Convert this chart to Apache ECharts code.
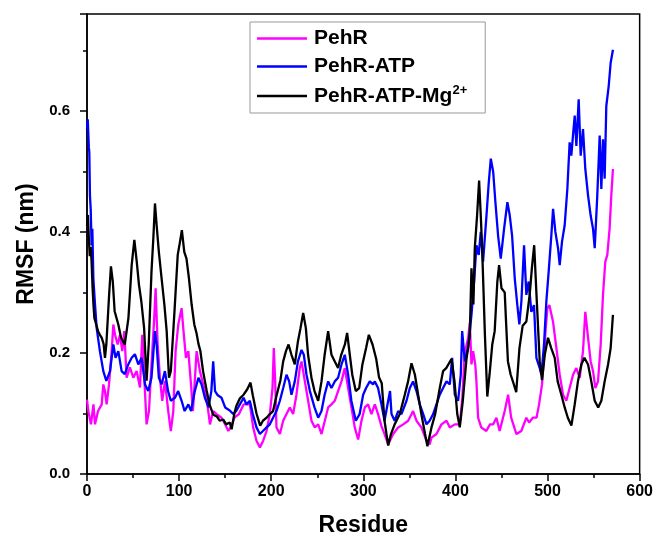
<!DOCTYPE html>
<html><head><meta charset="utf-8">
<script src="https://cdn.jsdelivr.net/npm/echarts@6/dist/echarts.min.js"></script>
<style>html,body{margin:0;padding:0;background:#fff}#c{width:656px;height:542px}</style>
</head><body><div id="c"></div>
<script>
const seriesNames = ['PehR', 'PehR-ATP', 'PehR-ATP-Mg2+'];
const xTicks = [0, 100, 200, 300, 400, 500, 600];
const yTicks = [0.0, 0.2, 0.4, 0.6];

const pehR = [[0,0.123],[1.4,0.104],[4.3,0.082],[7,0.115],[8.7,0.082],[12,0.104],[16,0.115],[17.7,0.148],[19.5,0.137],[21.3,0.115],[23.9,0.148],[26.8,0.203],[28.6,0.247],[30.4,0.23],[33.3,0.214],[35.8,0.23],[38.3,0.203],[40.5,0.236],[43,0.159],[46.6,0.176],[50.3,0.159],[53.9,0.17],[57.5,0.143],[60,0.23],[62.2,0.159],[64.7,0.082],[67.3,0.104],[70,0.181],[73,0.258],[74.5,0.307],[76.7,0.214],[79.2,0.159],[81.7,0.121],[84.6,0.154],[88.2,0.104],[91,0.071],[93.7,0.104],[96.2,0.203],[99.1,0.247],[102.7,0.274],[104.5,0.241],[107.4,0.192],[110,0.203],[112.9,0.148],[115,0.104],[119,0.203],[122.6,0.17],[126.2,0.148],[129.8,0.126],[133.5,0.082],[137,0.104],[140.7,0.099],[146,0.093],[150,0.082],[153.4,0.071],[157,0.08],[160,0.093],[165,0.099],[170,0.115],[176.8,0.115],[180.4,0.077],[184,0.055],[187.7,0.044],[191.3,0.055],[194.9,0.071],[198.5,0.099],[201.4,0.142],[202.8,0.208],[204.3,0.153],[205.7,0.077],[209.4,0.066],[213,0.088],[216.6,0.099],[220.2,0.11],[223.8,0.099],[227.4,0.131],[231,0.175],[232.9,0.186],[236.5,0.153],[240.1,0.121],[243.7,0.088],[247.3,0.077],[251,0.082],[254.6,0.066],[258.2,0.088],[261.8,0.11],[265.4,0.115],[269,0.121],[272.6,0.137],[276.3,0.153],[279.9,0.175],[283.5,0.142],[287.1,0.11],[290.7,0.077],[294.4,0.057],[298,0.088],[301.6,0.11],[305.2,0.115],[308.8,0.099],[312.5,0.115],[316,0.099],[319.5,0.08],[323,0.066],[327,0.049],[332.4,0.066],[337.8,0.077],[343.3,0.082],[348.7,0.088],[354,0.104],[357.7,0.088],[363,0.077],[368.6,0.055],[372,0.049],[374,0.06],[379.4,0.066],[384.8,0.082],[390.3,0.088],[393.9,0.077],[399.3,0.082],[404.7,0.082],[407.5,0.126],[410.1,0.2],[413.8,0.225],[415.6,0.25],[417.4,0.181],[419.2,0.203],[421.5,0.181],[422.8,0.153],[424.6,0.093],[428,0.077],[433.5,0.071],[437.5,0.082],[441,0.082],[444.5,0.093],[448,0.071],[453.5,0.104],[457.2,0.131],[460.5,0.093],[466.2,0.066],[471.5,0.071],[477,0.093],[480,0.085],[484,0.093],[488,0.093],[490.8,0.115],[494,0.148],[496.2,0.197],[498,0.24],[499.8,0.274],[502,0.279],[505.9,0.252],[509.6,0.208],[513.2,0.164],[516.8,0.131],[520.4,0.121],[524,0.142],[527.7,0.164],[531.3,0.175],[534.9,0.159],[538.5,0.203],[541,0.268],[544,0.225],[546.8,0.186],[549.4,0.17],[551.9,0.142],[554.8,0.153],[557.7,0.214],[560.2,0.296],[562.7,0.351],[564.9,0.362],[567.4,0.406],[569.2,0.46],[571,0.504]];

const pehRATP = [[0,0.57],[0.8,0.586],[2,0.54],[2.5,0.532],[3.2,0.46],[4,0.438],[5,0.378],[5.8,0.405],[6.9,0.323],[8.7,0.28],[10.5,0.241],[14,0.203],[17.7,0.17],[21,0.154],[25,0.17],[28.6,0.214],[31,0.192],[34,0.203],[37.6,0.17],[41,0.165],[44.8,0.181],[48.5,0.192],[52,0.198],[55.7,0.181],[59.3,0.192],[63,0.148],[66.5,0.137],[70,0.159],[73.8,0.236],[75.6,0.214],[78,0.159],[81,0.148],[84.6,0.17],[88,0.137],[91,0.121],[95.5,0.126],[99,0.137],[102.7,0.121],[106,0.104],[110,0.115],[113,0.104],[117,0.137],[121,0.159],[124.4,0.148],[128,0.126],[132,0.11],[135,0.137],[137,0.186],[139,0.137],[142,0.13],[146,0.126],[150,0.11],[155,0.105],[158.7,0.099],[162,0.104],[166,0.115],[170,0.126],[173,0.115],[176.8,0.121],[180,0.099],[184,0.077],[187.7,0.066],[191,0.071],[195,0.077],[198.5,0.082],[202,0.093],[205.7,0.104],[209.4,0.121],[213,0.142],[216.6,0.164],[219.5,0.153],[222,0.131],[225.6,0.153],[229,0.186],[232.9,0.205],[235.4,0.197],[238.3,0.164],[242,0.137],[247,0.11],[251,0.093],[254.6,0.104],[258,0.131],[261.8,0.153],[265.4,0.142],[269,0.153],[272.6,0.159],[276.3,0.181],[279.9,0.197],[283.5,0.164],[287,0.121],[291.8,0.088],[296,0.099],[299.8,0.131],[303,0.142],[307,0.153],[310.6,0.148],[312.5,0.153],[316,0.142],[319.7,0.115],[323,0.088],[327,0.121],[329,0.137],[330.6,0.099],[334,0.088],[337.8,0.104],[341.4,0.099],[346.9,0.121],[350.5,0.142],[354,0.153],[357.7,0.137],[361.3,0.115],[365,0.099],[368.6,0.082],[372,0.088],[375.8,0.099],[379.4,0.115],[383,0.131],[386.6,0.142],[390.3,0.153],[393.9,0.148],[396.4,0.192],[399.3,0.131],[402.9,0.121],[405.8,0.164],[407.3,0.236],[410.2,0.186],[413.8,0.208],[417.4,0.263],[420.3,0.318],[422.8,0.378],[425.3,0.362],[427.5,0.4],[430,0.351],[433.7,0.427],[436.2,0.482],[438.4,0.521],[441,0.499],[443.4,0.449],[446.3,0.394],[449.2,0.356],[452.8,0.405],[456.4,0.449],[459,0.427],[461.5,0.394],[464.4,0.323],[467.2,0.279],[469.4,0.247],[471.6,0.285],[474.5,0.378],[477,0.296],[479.5,0.318],[482.4,0.268],[485.3,0.279],[487.9,0.192],[491.5,0.175],[493.3,0.164],[496.2,0.214],[498.7,0.285],[501.2,0.334],[504.1,0.394],[506,0.438],[508.5,0.4],[511.4,0.373],[513.2,0.345],[515.7,0.384],[518.6,0.411],[521.5,0.471],[524,0.548],[525.8,0.526],[527.6,0.559],[529.5,0.592],[531.3,0.542],[533.8,0.619],[536,0.526],[538.5,0.57],[541,0.504],[544,0.46],[546.8,0.427],[549.4,0.405],[551.2,0.373],[554,0.46],[556.6,0.559],[558.4,0.471],[560.2,0.553],[562,0.488],[563.8,0.608],[566.4,0.641],[568.5,0.679],[571,0.701]];

const pehRATPMg = [[0,0.41],[1,0.428],[2,0.39],[3,0.36],[4,0.375],[5,0.35],[6,0.31],[7,0.28],[8,0.258],[10,0.247],[12,0.236],[14,0.23],[16,0.225],[18,0.215],[19.5,0.192],[21,0.214],[24,0.296],[26,0.343],[28,0.318],[30,0.269],[34,0.247],[37,0.225],[41,0.214],[45,0.258],[48.5,0.345],[51.4,0.387],[54,0.351],[56.4,0.313],[59,0.285],[62,0.241],[64.7,0.154],[67,0.214],[70,0.334],[72,0.389],[73.8,0.447],[75.6,0.411],[78,0.367],[81,0.323],[84,0.28],[86.5,0.236],[89,0.159],[91,0.17],[95,0.269],[98.5,0.362],[101,0.384],[103,0.403],[105.6,0.367],[108,0.356],[110.7,0.323],[113.6,0.28],[116.5,0.247],[119,0.232],[121,0.215],[123,0.204],[126,0.17],[130,0.137],[133,0.115],[137,0.098],[141,0.095],[144,0.088],[148,0.09],[151,0.082],[155,0.085],[157,0.074],[160,0.1],[162,0.112],[166,0.125],[170,0.131],[174,0.14],[177.5,0.151],[180,0.13],[184,0.1],[188,0.08],[191,0.088],[195,0.093],[198.5,0.099],[202,0.104],[206,0.131],[210,0.155],[213,0.186],[216,0.203],[218.8,0.214],[222,0.197],[225.6,0.181],[229,0.219],[231.8,0.241],[234.7,0.266],[237.6,0.241],[240,0.197],[243.7,0.159],[247,0.137],[251,0.121],[254.6,0.153],[258,0.197],[261.8,0.236],[265.4,0.197],[269,0.186],[272.6,0.175],[276,0.197],[280,0.214],[282.4,0.233],[285.3,0.197],[288,0.164],[291.8,0.137],[295.5,0.142],[299,0.181],[303,0.208],[306,0.23],[310,0.214],[314,0.19],[317,0.16],[320,0.15],[323,0.088],[327,0.047],[330,0.066],[334,0.082],[339.6,0.099],[345,0.131],[348.6,0.153],[352.3,0.183],[356,0.164],[359.5,0.131],[363,0.099],[367,0.066],[369.6,0.046],[374,0.077],[378,0.099],[383,0.142],[386.6,0.17],[390,0.175],[395.7,0.19],[399,0.153],[402,0.099],[404.7,0.077],[408,0.121],[412,0.19],[415.6,0.23],[417.4,0.34],[419.5,0.28],[421,0.373],[423.5,0.427],[425.7,0.485],[427.5,0.427],[429,0.373],[432,0.23],[434.6,0.128],[437,0.164],[440,0.214],[442.6,0.236],[445.5,0.318],[447.4,0.345],[450,0.307],[453.5,0.3],[455,0.25],[457,0.186],[460,0.164],[463,0.15],[466,0.135],[469.5,0.208],[473,0.245],[477,0.252],[480.6,0.296],[483,0.34],[485.5,0.378],[488,0.296],[491.5,0.186],[494,0.155],[497,0.197],[500.5,0.225],[504,0.208],[507.8,0.192],[511,0.153],[515,0.131],[518.6,0.11],[522,0.093],[525.9,0.08],[529.5,0.115],[533,0.153],[536.7,0.181],[540,0.192],[544,0.181],[547.5,0.153],[551.2,0.121],[555,0.11],[558.4,0.121],[562,0.153],[565.7,0.181],[568.5,0.208],[571,0.263]];

const colors = ['#FF00FF', '#0000FF', '#000000'];
const dataSets = [pehR, pehRATP, pehRATPMg];
const FONT = 'Liberation Sans, Arial, sans-serif';

const chart = echarts.init(document.getElementById('c'), null, {renderer: 'canvas'});
chart.setOption({
  animation: false,
  backgroundColor: '#fff',
  grid: {left: 87, right: 16, top: 14, bottom: 65, show: true, borderColor: '#000', borderWidth: 1.5, backgroundColor: 'transparent'},
  legend: {
    data: seriesNames,
    orient: 'vertical',
    left: 250, top: 22,
    width: 233,
    padding: [6, 18, 6, 7],
    backgroundColor: '#fff',
    borderColor: '#999',
    borderWidth: 1,
    itemWidth: 50, itemHeight: 2.5,
    itemGap: 7,
    icon: 'rect',
    formatter: function (n) {
      if (n === 'PehR-ATP-Mg2+') return '{t|PehR-ATP-Mg}{s|2+}';
      return '{t|' + n + '}';
    },
    textStyle: {
      rich: {
        t: {fontFamily: FONT, fontWeight: 'bold', fontSize: 21, color: '#000', lineHeight: 24, padding: [0,0,0,2]},
        s: {fontFamily: FONT, fontWeight: 'bold', fontSize: 13, color: '#000', verticalAlign: 'top', lineHeight: 24, padding: [0,0,10,0]}
      }
    }
  },
  xAxis: {
    type: 'value', min: 0, max: 600, interval: 100,
    name: 'Residue', nameLocation: 'middle', nameGap: 40,
    nameTextStyle: {fontFamily: FONT, fontWeight: 'bold', fontSize: 23, color: '#000'},
    axisLine: {show: true, onZero: false, lineStyle: {color: '#000', width: 1.5}},
    axisTick: {show: true, inside: false, length: 7, lineStyle: {color: '#000', width: 1.5}},
    minorTick: {show: true, splitNumber: 2, length: 4, lineStyle: {color: '#000', width: 1.5}},
    splitLine: {show: false},
    axisLabel: {fontFamily: FONT, fontWeight: 'bold', fontSize: 16, color: '#000', margin: 10,
      formatter: function (v) { return xTicks.indexOf(v) >= 0 ? String(v) : ''; }}
  },
  yAxis: {
    type: 'value', min: 0, max: 0.76, interval: 0.2,
    name: 'RMSF (nm)', nameLocation: 'middle', nameGap: 44, nameRotate: 90,
    nameTextStyle: {fontFamily: FONT, fontWeight: 'bold', fontSize: 23, color: '#000'},
    axisLine: {show: true, onZero: false, lineStyle: {color: '#000', width: 1.5}},
    axisTick: {show: true, inside: false, length: 7, lineStyle: {color: '#000', width: 1.5}},
    minorTick: {show: true, splitNumber: 2, length: 4, lineStyle: {color: '#000', width: 1.5}},
    splitLine: {show: false},
    axisLabel: {fontFamily: FONT, fontWeight: 'bold', fontSize: 15, color: '#000', margin: 17,
      formatter: function (v) { return yTicks.some(t => Math.abs(t - v) < 1e-6) ? v.toFixed(1) : ''; }}
  },
  series: dataSets.map(function (d, i) {
    return {
      name: seriesNames[i], type: 'line', data: d,
      showSymbol: false, symbol: 'none',
      lineStyle: {color: colors[i], width: 2.3},
      itemStyle: {color: colors[i]},
      z: 2 + i
    };
  })
});
</script></body></html>
